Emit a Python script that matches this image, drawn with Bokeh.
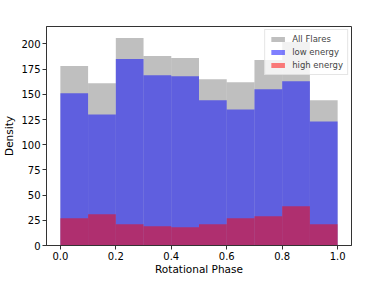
from bokeh.plotting import figure
from bokeh.models import FixedTicker, PrintfTickFormatter, Legend, LegendItem
from bokeh.embed import file_html
from bokeh.resources import INLINE

bin_edges = [0.0, 0.1, 0.2, 0.3, 0.4, 0.5, 0.6, 0.7, 0.8, 0.9, 1.0]
all_flares = [178, 161, 206, 188, 186, 165, 162, 184, 202, 144]
low_energy = [151, 130, 185, 169, 168, 144, 135, 155, 163, 123]
high_energy = [27, 31, 21, 19, 18, 21, 27, 29, 39, 21]
x_ticks = [0.0, 0.2, 0.4, 0.6, 0.8, 1.0]
y_ticks = [0, 25, 50, 75, 100, 125, 150, 175, 200]
x_label = "Rotational Phase"
y_label = "Density"

FONT = "DejaVu Sans"

p = figure(width=374, height=277, output_backend="svg", toolbar_location=None,
           x_range=(-0.05, 1.05), y_range=(0, 217.3),
           min_border_left=40, min_border_top=26, min_border_right=23,
           min_border_bottom=0)
p.xgrid.visible = False
p.ygrid.visible = False
p.outline_line_color = "#333333"
p.outline_line_width = 1
p.background_fill_color = "white"
p.border_fill_color = "white"

left = bin_edges[:-1]
right = bin_edges[1:]
r1 = p.quad(left=left, right=right, bottom=0, top=all_flares,
            fill_color="gray", fill_alpha=0.5, line_color=None)
r2 = p.quad(left=left, right=right, bottom=0, top=low_energy,
            fill_color="blue", fill_alpha=0.5, line_color=None)
r3 = p.quad(left=left, right=right, bottom=0, top=high_energy,
            fill_color="red", fill_alpha=0.5, line_color=None)

legend = Legend(items=[LegendItem(label="All Flares", renderers=[r1]),
                       LegendItem(label="low energy", renderers=[r2]),
                       LegendItem(label="high energy", renderers=[r3])],
                location="top_right")
legend.label_text_font = FONT
legend.label_text_font_size = "8.5px"
legend.label_height = 10
legend.glyph_width = 17
legend.glyph_height = 6
legend.spacing = 3
legend.padding = 4
legend.margin = 3
legend.label_standoff = 6
legend.border_line_color = "#cccccc"
legend.background_fill_alpha = 0.8
p.add_layout(legend)

for ax in (p.xaxis[0], p.yaxis[0]):
    ax.axis_line_color = "#333333"
    ax.major_tick_line_color = "#333333"
    ax.major_tick_out = 4
    ax.major_tick_in = 0
    ax.minor_tick_out = 0
    ax.minor_tick_in = 0
    ax.major_label_text_font = FONT
    ax.major_label_text_font_size = "10px"
    ax.major_label_text_color = "black"
    ax.axis_label_text_font = FONT
    ax.axis_label_text_font_size = "10.5px"
    ax.axis_label_text_font_style = "normal"
    ax.axis_label_text_color = "black"

p.yaxis.major_label_standoff = 2
p.yaxis.axis_label_standoff = 3
p.xaxis.major_label_standoff = 2
p.xaxis.axis_label_standoff = 0
p.xaxis.major_label_text_line_height = 0.8
p.xaxis.axis_label_text_line_height = 0.8

p.xaxis.ticker = FixedTicker(ticks=x_ticks)
p.xaxis.formatter = PrintfTickFormatter(format="%.1f")
p.yaxis.ticker = FixedTicker(ticks=y_ticks)
p.xaxis.axis_label = x_label
p.yaxis.axis_label = y_label

open("out.html", "w").write(file_html(p, INLINE))
